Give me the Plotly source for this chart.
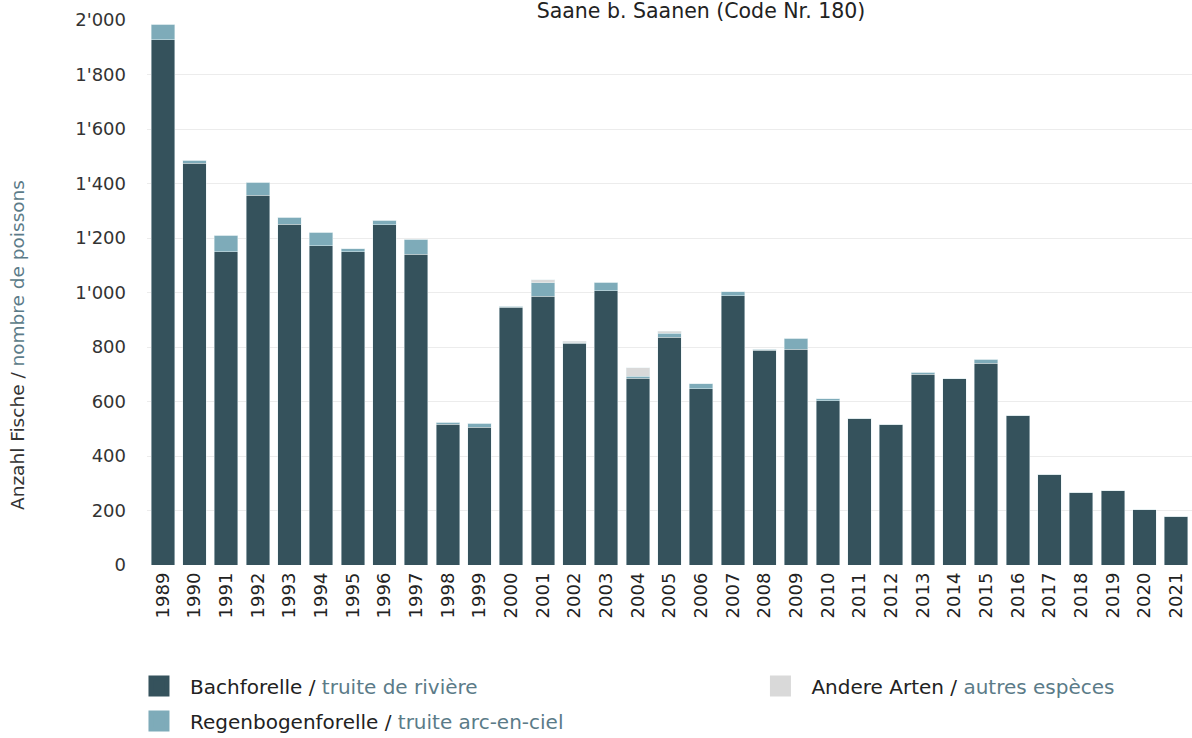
import plotly.graph_objects as go

# Jahre / années
years = [str(y) for y in range(1989, 2022)]

# Bachforelle / truite de rivière
bachforelle = [1927, 1475, 1149, 1357, 1251, 1171, 1149, 1248, 1141, 516, 506,
               946, 987, 813, 1007, 686, 835, 646, 988, 788, 791, 603, 538,
               517, 700, 683, 740, 549, 333, 267, 273, 203, 179]

# Regenbogenforelle / truite arc-en-ciel
regenbogen = [58, 11, 62, 48, 25, 51, 11, 18, 55, 8, 15, 4, 48, 3, 31, 6, 15,
              19, 14, 3, 42, 7, 0, 0, 7, 0, 15, 0, 0, 0, 0, 0, 0]

# Andere Arten / autres espèces
andere = [0, 0, 0, 0, 0, 0, 0, 0, 0, 0, 0, 0, 11, 6, 0, 31, 8, 0, 0, 0, 0, 0,
          0, 0, 0, 0, 0, 0, 0, 0, 0, 0, 0]

y_ticks = [0, 200, 400, 600, 800, 1000, 1200, 1400, 1600, 1800, 2000]

DARK = "#35525c"
LIGHT = "#7eabb9"
GREY = "#d9d9d9"
FR = "#5b7b88"
FONT = "DejaVu Sans, Liberation Sans, sans-serif"

fig = go.Figure()

series = [
    ("Bachforelle", "truite de rivière", bachforelle, DARK, "legend", 1),
    ("Regenbogenforelle", "truite arc-en-ciel", regenbogen, LIGHT, "legend", 2),
    ("Andere Arten", "autres espèces", andere, GREY, "legend2", 3),
]

for de, fr, vals, col, leg, rank in series:
    fig.add_trace(go.Bar(
        x=years, y=vals, marker_color=col,
        marker_line=dict(color="rgba(230,240,243,0.8)", width=0.6),
        showlegend=False, hoverinfo="x+y", name=de,
    ))
    # Legendeneintrag mit grösserem Quadrat
    fig.add_trace(go.Scatter(
        x=[None], y=[None], mode="markers",
        marker=dict(symbol="square", size=22, color=col, line=dict(color=col, width=5)),
        name=f"{de} / <span style='color:{FR}'>{fr}</span>",
        legend=leg, legendgroup=de, legendrank=rank,
    ))

# y-Achsentitel als Annotation (etwas unterhalb der Mitte, wie im Original)
fig.add_annotation(
    text=f"Anzahl Fische / <span style='color:{FR}'>nombre de poissons</span>",
    xref="paper", yref="paper", x=(17 - 147) / 1045, y=(565 - 345) / 545,
    xanchor="center", yanchor="middle", textangle=-90, showarrow=False,
    font=dict(size=18.5, color="#333333"),
)

fig.update_layout(
    width=1192, height=738,
    margin=dict(l=147, r=0, t=20, b=173, autoexpand=False),
    barmode="stack", bargap=0.26,
    paper_bgcolor="white", plot_bgcolor="white",
    separators=".'",
    font=dict(family=FONT, color="#333333", size=18),
    title=dict(text="Saane b. Saanen (Code Nr. 180)", x=(701 - 147) / 1045, xref="paper",
               xanchor="center", y=1 - 11 / 738, yanchor="middle",
               font=dict(size=20.5, color="#222222")),
    xaxis=dict(tickangle=-90, showgrid=False, ticks="", tickfont=dict(size=18, color="#222222"),
               showline=False, automargin=False, ticklabelstandoff=3),
    yaxis=dict(range=[0, 2000], tickvals=y_ticks, tickformat=",", showgrid=True,
               gridcolor="#ececec", gridwidth=1, zeroline=False, ticks="",
               tickfont=dict(size=18, color="#333333"), automargin=False,
               ticklabelstandoff=20),
    legend=dict(x=-0.0182, y=-0.1862, xanchor="left", yanchor="top", orientation="v",
                itemsizing="trace", itemwidth=52, tracegroupgap=6,
                font=dict(size=20, color="#222222"), bgcolor="rgba(0,0,0,0)"),
    legend2=dict(x=0.5765, y=-0.1862, xanchor="left", yanchor="top", orientation="v",
                 itemsizing="trace", itemwidth=52,
                 font=dict(size=20, color="#222222"), bgcolor="rgba(0,0,0,0)"),
)

fig.write_html("out.html", config={"displayModeBar": False},
               post_script="document.body.style.margin = '0';")
